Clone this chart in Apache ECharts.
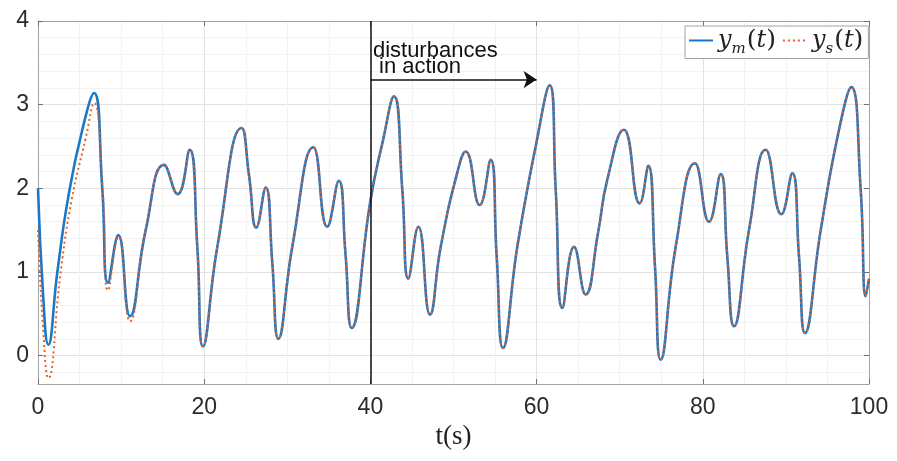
<!DOCTYPE html>
<html>
<head>
<meta charset="utf-8">
<script src="https://cdn.jsdelivr.net/npm/echarts@6/dist/echarts.min.js"></script>
<style>
  html, body { margin: 0; padding: 0; background: #fff; }
  #chart1 { width: 897px; height: 461px; }
</style>
</head>
<body>
<div id="chart1"></div>
<script>
// y_m(t) (peaks, troughs and a few slope points)
var tM = [0, 0.6, 1.24, 2.33, 3.65, 5.33, 6.74, 7.73, 8.42, 9.67, 11.07, 12.96, 15.16, 16.8, 18.25,
  19.17, 19.85, 21.58, 24.5, 25.4, 26.27, 27.4, 28.2, 28.92, 30.6, 33.13, 34.8, 36.2, 37.0, 37.75,
  40.0, 41.44, 42.84, 43.84, 44.56, 45.77, 47.17, 48.46, 50.54, 51.47, 53.15, 54.47, 55.2, 55.96,
  57.68, 59.89, 61.57, 62.3, 63.1, 64.5, 65.9, 67.4, 68.5, 70.5, 72.4, 73.44, 74.25, 74.93, 76.74,
  79.06, 80.75, 82.15, 82.95, 83.75, 85.56, 87.57, 89.45, 90.77, 91.58, 92.3, 94.19, 96.39, 97.87,
  99.0, 99.6, 100];
var yM = [2.0, 0.75, 0.13, 1.0, 1.9, 2.7, 3.14, 2.0, 0.87, 1.44, 0.47, 1.5, 2.28, 1.93, 2.46,
  1.3, 0.11, 1.3, 2.72, 2.15, 1.53, 2.01, 1.1, 0.2, 1.3, 2.49, 1.54, 2.09, 1.22, 0.33,
  1.85, 2.54, 3.1, 1.98, 0.92, 1.54, 0.49, 1.3, 2.22, 2.44, 1.8, 2.34, 1.18, 0.09,
  1.3, 2.5, 3.23, 1.98, 0.57, 1.3, 0.73, 1.47, 2.1, 2.7, 1.82, 2.27, 1.06, -0.05, 1.3,
  2.3, 1.6, 2.17, 1.18, 0.35, 1.5, 2.46, 1.69, 2.18, 1.18, 0.27, 1.5, 2.7, 3.21,
  1.98, 0.71, 0.92];

// y_s(t): differs from y_m only during the first seconds, then follows it
var tSEarly = [0, 0.6, 1.24, 2.73, 4.05, 5.74, 6.74, 7.78, 8.42, 9.67, 11.07];
var ySEarly = [1.5, 0.35, -0.27, 1.0, 1.86, 2.6, 3.02, 2.0, 0.78, 1.42, 0.41];

var yMajor = [0, 1, 2, 3, 4];
var yMinor = [-0.2, 0.2, 0.4, 0.6, 0.8, 1.2, 1.4, 1.6, 1.8, 2.2, 2.4, 2.6, 2.8, 3.2, 3.4, 3.6, 3.8];

var disturbX = 40, arrowEndX = 60, arrowY = 3.3;

var ymData = tM.map(function (t, i) { return [t, yM[i]]; });
var ysData = tSEarly.map(function (t, i) { return [t, ySEarly[i]]; });
ymData.forEach(function (p) { if (p[0] > 12) ysData.push(p); });

var chartDom = document.getElementById("chart1");
var myChart = echarts.init(chartDom);

var boxLine = { show: true, onZero: false, lineStyle: { color: "#a3a3a3", width: 1 } };
var tickIn = { show: true, inside: true, length: 5, lineStyle: { color: "#707070" } };
var sans = "Liberation Sans, Arial, sans-serif";
var serif = "DejaVu Serif, serif";

var option = {
  backgroundColor: "#fff",
  animation: false,
  grid: { left: 38, right: 28, top: 21, bottom: 77 },
  legend: {
    data: ["ym", "ys"],
    left: 685,
    top: 26,
    itemWidth: 24,
    itemHeight: 12,
    itemGap: 6,
    padding: [2, 5, 2, 3],
    borderColor: "#a3a3a3",
    borderWidth: 1,
    backgroundColor: "#fff",
    itemStyle: { opacity: 0 },
    formatter: function (name) {
      var sub = name === "ym" ? "m" : "s";
      return "{i|y}{s|" + sub + "}{p|(}{i|t}{p|)}";
    },
    textStyle: {
      rich: {
        i: { fontFamily: serif, fontStyle: "italic", fontSize: 24, color: "#222", lineHeight: 32 },
        s: { fontFamily: serif, fontStyle: "italic", fontSize: 15, color: "#222", lineHeight: 32, verticalAlign: "bottom", padding: [0, 1, 0, 0] },
        p: { fontFamily: serif, fontSize: 25, color: "#222", lineHeight: 32 },
      },
    },
  },
  xAxis: [
    {
      type: "value",
      min: 0,
      max: 100,
      interval: 20,
      position: "bottom",
      name: "t(s)",
      nameLocation: "middle",
      nameGap: 39,
      nameTextStyle: { fontFamily: "Liberation Serif, serif", fontSize: 27, color: "#222" },
      axisLine: boxLine,
      axisTick: tickIn,
      axisLabel: { fontFamily: sans, fontSize: 23, color: "#2b2b2b", margin: 12 },
      splitLine: { show: true, lineStyle: { color: "#e2e2e2" } },
      minorTick: { show: false, splitNumber: 4 },
      minorSplitLine: { show: true, lineStyle: { color: "#f2f2f2" } },
    },
    {
      type: "value",
      min: 0,
      max: 100,
      interval: 20,
      position: "top",
      axisLine: boxLine,
      axisTick: tickIn,
      axisLabel: { show: false },
      splitLine: { show: false },
    },
  ],
  yAxis: [
    {
      type: "value",
      min: -0.34,
      max: 4,
      position: "left",
      axisLine: boxLine,
      axisTick: { show: true, inside: true, length: 5, lineStyle: { color: "#707070" }, customValues: yMajor },
      axisLabel: { fontFamily: sans, fontSize: 23, color: "#2b2b2b", margin: 9, customValues: yMajor },
      splitLine: { show: true, lineStyle: { color: "#e2e2e2" } },
    },
    {
      type: "value",
      min: -0.34,
      max: 4,
      position: "left",
      axisLine: { show: false },
      axisTick: { show: false, customValues: yMinor },
      axisLabel: { show: false, customValues: yMinor },
      splitLine: { show: true, lineStyle: { color: "#f2f2f2" } },
      z: 0,
    },
    {
      type: "value",
      min: -0.34,
      max: 4,
      position: "right",
      axisLine: boxLine,
      axisTick: { show: true, inside: true, length: 5, lineStyle: { color: "#707070" }, customValues: yMajor },
      axisLabel: { show: false, customValues: yMajor },
      splitLine: { show: false },
    },
  ],
  series: [
    {
      name: "ym",
      type: "line",
      xAxisIndex: 0,
      yAxisIndex: 0,
      data: ymData,
      smooth: 0.5,
      symbol: "none",
      showSymbol: false,
      lineStyle: { color: "#1a78c6", width: 2.6 },
      itemStyle: { color: "#1a78c6" },
      z: 3,
      markLine: {
        silent: true,
        symbol: "none",
        label: { show: false },
        lineStyle: { color: "#111", width: 1.5, type: "solid" },
        data: [
          { xAxis: disturbX },
          [
            { coord: [disturbX, arrowY], symbol: "none" },
            { coord: [arrowEndX, arrowY], symbol: "arrow", symbolSize: 13 },
          ],
        ],
      },
      markPoint: {
        silent: true,
        symbol: "circle",
        symbolSize: 1,
        itemStyle: { color: "rgba(0,0,0,0)" },
        label: {
          show: true,
          position: [3, -36],
          formatter: "disturbances\n in action",
          fontFamily: sans,
          fontSize: 22,
          lineHeight: 16,
          color: "#111",
        },
        data: [{ coord: [disturbX, arrowY] }],
      },
    },
    {
      name: "ys",
      type: "line",
      xAxisIndex: 0,
      yAxisIndex: 0,
      data: ysData,
      smooth: 0.5,
      symbol: "none",
      showSymbol: false,
      lineStyle: { color: "#e5602a", width: 2, type: [2, 3] },
      itemStyle: { color: "#e5602a" },
      z: 4,
    },
  ],
};

option && myChart.setOption(option);
</script>
</body>
</html>
